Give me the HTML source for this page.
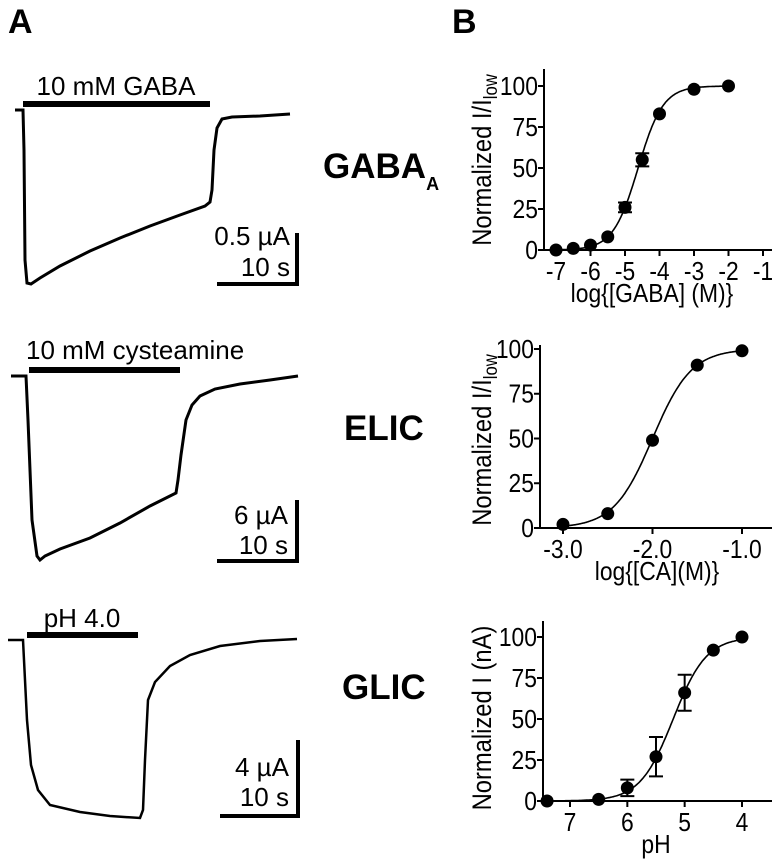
<!DOCTYPE html>
<html><head><meta charset="utf-8"><style>
html,body{margin:0;padding:0;background:#fff;}
svg{display:block;font-family:"Liberation Sans",Arial,sans-serif;}
</style></head><body>
<svg id="fig" width="779" height="861" viewBox="0 0 779 861">
<text x="8" y="33" font-size="34" font-weight="bold">A</text>
<text x="452" y="33" font-size="34" font-weight="bold">B</text>

<!-- GABA trace -->
<g fill="none" stroke="#000">
<rect x="23" y="101" width="187" height="6" fill="#000" stroke="none"/>
<text x="116" y="95" font-size="26" text-anchor="middle" fill="#000" stroke="none">10 mM GABA</text>
<path d="M15,110 L23,110 L24,150 L25,260 L27,283 L31,284 L40,278 L60,266 L90,251 L120,238 L150,226 L180,215 L205,206 L210,202 L212,190 L214,150 L217,128 L222,119 L232,117 L260,116 L290,114" stroke-width="3"/>
<path d="M297,233 L297,285 M217,284 L299,284" stroke-width="4"/>
<text x="290" y="245" font-size="26" text-anchor="end" fill="#000" stroke="none">0.5 µA</text>
<text x="290" y="276" font-size="26" text-anchor="end" fill="#000" stroke="none">10 s</text>
</g>
<text x="323" y="178" font-size="35" font-weight="bold">GABA<tspan font-size="18" dy="12">A</tspan></text>

<!-- ELIC trace -->
<g fill="none" stroke="#000">
<rect x="29" y="367" width="151" height="6" fill="#000" stroke="none"/>
<text x="26" y="359" font-size="26" fill="#000" stroke="none">10 mM cysteamine</text>
<path d="M11,376 L26,376 L28,420 L32,520 L37,556 L40,560 L45,556 L60,549 L90,538 L120,523 L150,506 L176,493 L178,480 L181,455 L186,420 L192,405 L200,396 L215,389 L240,384 L270,380 L298,376" stroke-width="3"/>
<path d="M297,500 L297,562 M217,561 L299,561" stroke-width="4"/>
<text x="288" y="524" font-size="26" text-anchor="end" fill="#000" stroke="none">6 µA</text>
<text x="288" y="554" font-size="26" text-anchor="end" fill="#000" stroke="none">10 s</text>
</g>
<text x="344" y="440" font-size="35" font-weight="bold">ELIC</text>

<!-- GLIC trace -->
<g fill="none" stroke="#000">
<rect x="27" y="632" width="111" height="6" fill="#000" stroke="none"/>
<text x="82" y="627" font-size="26" text-anchor="middle" fill="#000" stroke="none">pH 4.0</text>
<path d="M8,640 L23,640 L24,660 L27,720 L31,765 L38,790 L50,805 L80,812 L110,816 L140,818 L143,810 L145,760 L148,700 L155,682 L170,666 L190,655 L220,646 L260,641 L297,639" stroke-width="2.5"/>
<path d="M298,740 L298,817 M220,816 L300,816" stroke-width="4"/>
<text x="289" y="776" font-size="26" text-anchor="end" fill="#000" stroke="none">4 µA</text>
<text x="289" y="806" font-size="26" text-anchor="end" fill="#000" stroke="none">10 s</text>
</g>
<text x="342" y="699" font-size="35" font-weight="bold">GLIC</text>

<g id="charts"></g>
</svg>
<script>
// Chart 1: GABA
const gabaX = [-7, -6.5, -6, -5.5, -5, -4.5, -4, -3, -2];
const gabaY = [0, 1, 3, 8, 26, 55, 83, 98, 100];
const gabaErr = [0, 0, 0, 0, 3, 4, 0, 0, 0];
const gabaXTicks = [-7, -6, -5, -4, -3, -2, -1];
const gabaFit = [-4.62, 1.2];
// Chart 2: ELIC
const elicX = [-3, -2.5, -2, -1.5, -1];
const elicY = [2, 8, 49, 91, 99];
const elicErr = [0, 0, 0, 0, 0];
const elicXTicks = [-3, -2, -1];
const elicXTickLabels = ["-3.0", "-2.0", "-1.0"];
const elicFit = [-2.0, 2.0];
// Chart 3: GLIC
const glicX = [7.4, 6.5, 6, 5.5, 5, 4.5, 4];
const glicY = [0, 1, 8, 27, 66, 92, 100];
const glicErr = [0, 0, 5, 12, 11, 0, 0];
const glicXTicks = [7, 6, 5, 4];
const glicFit = [5.2, 1.5];
const yTicks = [0, 25, 50, 75, 100];

const NS = "http://www.w3.org/2000/svg";
const root = document.getElementById('charts');
const SC = 0.88;
function mk(tag, attrs, parent) {
  const e = document.createElementNS(NS, tag);
  for (const k in attrs) e.setAttribute(k, attrs[k]);
  parent.appendChild(e);
  return e;
}
function chart(cfg) {
  const g = mk('g', {}, root);
  
  
  const sx = v => cfg.x0px + (v - cfg.x0v) * cfg.xs;
  const sy = v => cfg.y0px - v * cfg.ys;
  const ax = mk('path', {d: `M${cfg.axX},${cfg.top} L${cfg.axX},${sy(0)} L772,${sy(0)}`, stroke: '#000', 'stroke-width': 2, fill: 'none'}, g);
  
  
  yTicks.forEach(t => {
    const tk = mk('line', {x1: cfg.axX - 6, x2: cfg.axX, y1: sy(t), y2: sy(t), stroke: '#000', 'stroke-width': 2}, g);
    
    
    const tl = mk('text', {x: cfg.axX - 6, y: sy(t) + 9, 'font-size': 26, 'text-anchor': 'end', transform: `translate(${(cfg.axX-6)*(1-SC)},0) scale(${SC},1)`}, g);
    tl.textContent = t;
    
    
  });
  cfg.xt.forEach((t, i) => {
    const tk = mk('line', {x1: sx(t), x2: sx(t), y1: sy(0), y2: sy(0) + 6, stroke: '#000', 'stroke-width': 2}, g);
    
    
    const tl = mk('text', {x: sx(t), y: sy(0) + 30, 'font-size': 26, 'text-anchor': 'middle', transform: `translate(${sx(t)*(1-SC)},0) scale(${SC},1)`}, g);
    tl.textContent = cfg.xtl ? cfg.xtl[i] : t;
    
    
  });
  let d = '';
  const [mid, n] = cfg.fit;
  for (let i = 0; i <= 200; i++) {
    const v = cfg.xmin + (cfg.xmax - cfg.xmin) * i / 200;
    const y = 100 / (1 + Math.pow(10, cfg.dir * (mid - v) * n));
    d += (i ? 'L' : 'M') + sx(v).toFixed(1) + ',' + sy(y).toFixed(1);
  }
  const c = mk('path', {d, stroke: '#000', 'stroke-width': 1.6, fill: 'none'}, g);
  
  
  cfg.xs_.forEach((v, i) => {
    const e = cfg.err[i];
    if (e > 0) {
      const eb = mk('path', {d: `M${sx(v)},${sy(cfg.ys_[i]-e)} L${sx(v)},${sy(cfg.ys_[i]+e)} M${sx(v)-7},${sy(cfg.ys_[i]-e)} L${sx(v)+7},${sy(cfg.ys_[i]-e)} M${sx(v)-7},${sy(cfg.ys_[i]+e)} L${sx(v)+7},${sy(cfg.ys_[i]+e)}`, stroke: '#000', 'stroke-width': 2, fill: 'none'}, g);
      
      
    }
    const p = mk('circle', {cx: sx(v), cy: sy(cfg.ys_[i]), r: 6.5, fill: '#000'}, g);
    
    
  });
  const xl = mk('text', {x: cfg.xlx, y: sy(0) + 52, 'font-size': 26, 'text-anchor': 'middle', transform: `translate(${cfg.xlx*(1-SC)},0) scale(${SC},1)`}, g);
  xl.textContent = cfg.xlabel;
  
  
  const yl = mk('text', {x: 0, y: 0, 'font-size': 27, 'text-anchor': 'middle', transform: `translate(491,${cfg.ylc}) rotate(-90) scale(${SC},1)`}, g);
  yl.innerHTML = cfg.ylabel;
  
  
}
chart({name: 'gaba-dose-response-chart', x0v: -7, x0px: 556, xs: 34.5, y0px: 250, ys: 1.64, axX: 544, top: 69,
  xt: gabaXTicks, fit: gabaFit, dir: 1, xmin: -7, xmax: -2, xs_: gabaX, ys_: gabaY, err: gabaErr,
  xlx: 652, xlabel: 'log{[GABA] (M)}', ylc: 160, ylabel: 'Normalized I/I<tspan font-size="19" dy="6">low</tspan>'});
chart({name: 'elic-dose-response-chart', x0v: -3, x0px: 563, xs: 89.5, y0px: 528, ys: 1.79, axX: 540, top: 345,
  xt: elicXTicks, xtl: elicXTickLabels, fit: elicFit, dir: 1, xmin: -3, xmax: -1, xs_: elicX, ys_: elicY, err: elicErr,
  xlx: 657, xlabel: 'log{[CA](M)}', ylc: 440, ylabel: 'Normalized I/I<tspan font-size="19" dy="6">low</tspan>'});
chart({name: 'glic-ph-response-chart', x0v: 7, x0px: 570, xs: -57.33, y0px: 801, ys: 1.64, axX: 543, top: 621,
  xt: glicXTicks, fit: glicFit, dir: -1, xmin: 7.4, xmax: 4, xs_: glicX, ys_: glicY, err: glicErr,
  xlx: 656, xlabel: 'pH', ylc: 718, ylabel: 'Normalized I (nA)'});
</script>
</body></html>
